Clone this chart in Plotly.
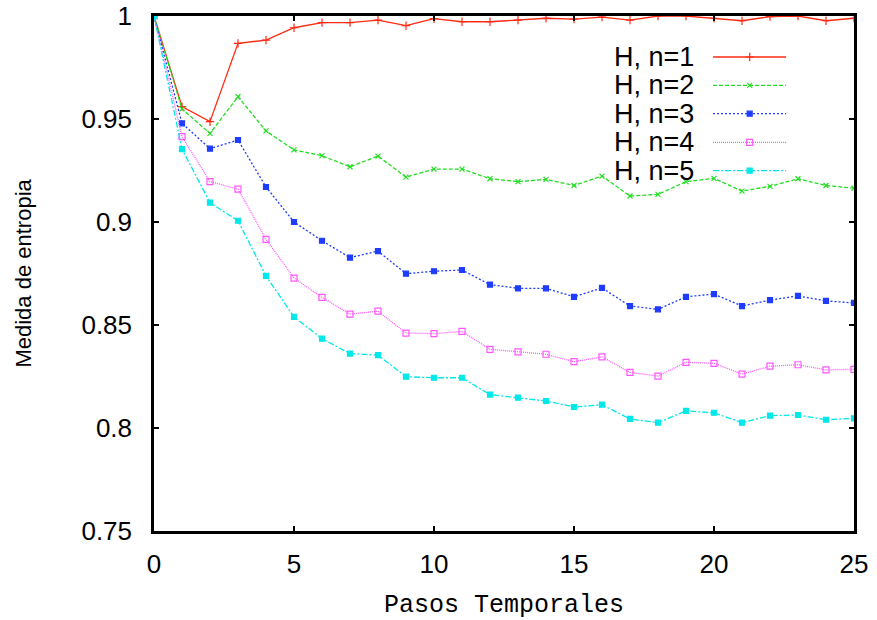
import plotly.graph_objects as go

pasos = list(range(26))

h_n1 = [1.0, 0.956, 0.9487, 0.9867, 0.9883, 0.9943, 0.9968, 0.9968, 0.998, 0.9953,
        0.9987, 0.9972, 0.9972, 0.998, 0.9989, 0.9985, 0.9995, 0.998, 1.0, 1.0,
        0.9989, 0.9977, 0.9997, 1.0, 0.9977, 0.9989]
h_n2 = [1.0, 0.9549, 0.943, 0.9608, 0.9442, 0.935, 0.9322, 0.9268, 0.932, 0.9218,
        0.9257, 0.9257, 0.921, 0.9196, 0.9207, 0.9177, 0.9223, 0.9126, 0.9134, 0.9196,
        0.9212, 0.915, 0.9173, 0.921, 0.9177, 0.9164]
h_n3 = [1.0, 0.9479, 0.9356, 0.9398, 0.917, 0.9, 0.8909, 0.8827, 0.8859, 0.8749,
        0.8761, 0.8767, 0.8696, 0.8678, 0.8678, 0.8637, 0.868, 0.8592, 0.8576, 0.8637,
        0.865, 0.8592, 0.8621, 0.8641, 0.8617, 0.8607]
h_n4 = [1.0, 0.9414, 0.9196, 0.916, 0.8916, 0.8728, 0.8634, 0.8553, 0.8567, 0.8461,
        0.8458, 0.8469, 0.8382, 0.837, 0.8358, 0.8322, 0.8345, 0.827, 0.8252, 0.8319,
        0.8314, 0.8262, 0.83, 0.8307, 0.8282, 0.8285]
h_n5 = [1.0, 0.9354, 0.9094, 0.9006, 0.8738, 0.8539, 0.8434, 0.8361, 0.8354, 0.8249,
        0.8244, 0.8244, 0.8162, 0.8147, 0.8131, 0.8102, 0.8113, 0.8044, 0.8026, 0.8083,
        0.8074, 0.8026, 0.806, 0.8063, 0.804, 0.8047]

series_names = ["H, n=1", "H, n=2", "H, n=3", "H, n=4", "H, n=5"]
series_values = [h_n1, h_n2, h_n3, h_n4, h_n5]

x_ticks = [0, 5, 10, 15, 20, 25]
y_ticks = [0.75, 0.8, 0.85, 0.9, 0.95, 1.0]
y_tick_labels = ["0.75", "0.8", "0.85", "0.9", "0.95", "1"]

colors = ["#ff2a12", "#22dd22", "#1f3cff", "#ff55ff", "#00e8e8"]
dashes = ["solid", "4px,2px", "2px,2px", "1px,1px", "6px,2px,2px,2px"]
symbols = ["cross-thin", "x-thin", "square", "square-open", "square"]
msizes = [6, 5, 5, 6, 5]

fig = go.Figure()
for name, vals, c, d, s, ms in zip(series_names, series_values, colors, dashes, symbols, msizes):
    fig.add_trace(go.Scatter(
        x=pasos, y=vals, name=name, mode="lines+markers", showlegend=False,
        line=dict(color=c, width=1.3, dash=d),
        marker=dict(symbol=s, size=ms, color=c, line=dict(color=c, width=1.2)),
    ))

# custom gnuplot-style legend (text left, sample right) on an overlay axis
leg_rows = [0.9204, 0.8654, 0.8103, 0.7548, 0.6996]
for name, c, d, s, ms, yr in zip(series_names, colors, dashes, symbols, msizes, leg_rows):
    fig.add_trace(go.Scatter(
        x=[0.7986, 0.851, 0.903], y=[yr, yr, yr], xaxis="x2", yaxis="y2",
        mode="lines", showlegend=False, hoverinfo="skip",
        line=dict(color=c, width=1.3, dash=d),
    ))
    fig.add_trace(go.Scatter(
        x=[0.851], y=[yr], xaxis="x2", yaxis="y2",
        mode="markers", showlegend=False, hoverinfo="skip",
        marker=dict(symbol=s, size=ms, color=c, line=dict(color=c, width=1.2)),
    ))
    fig.add_annotation(x=0.774, y=yr, xref="paper", yref="paper", text=name,
                       showarrow=False, xanchor="right", yanchor="middle",
                       font=dict(family="Liberation Sans, Arial, Helvetica", size=27, color="black"))

axis_common = dict(showgrid=False, zeroline=False, showline=True, linecolor="black",
                   linewidth=2.5, mirror="ticks", ticks="inside", ticklen=5, tickwidth=1.5,
                   tickcolor="black", automargin=False,
                   tickfont=dict(family="Liberation Sans, Arial, Helvetica", size=26, color="black"))

fig.update_layout(
    template="none",
    width=877, height=620,
    margin=dict(l=154, r=23, t=16, b=89, autoexpand=False),
    paper_bgcolor="white", plot_bgcolor="white",
    xaxis=dict(range=[0, 25], tickvals=x_ticks, ticklabelstandoff=8, **axis_common),
    yaxis=dict(range=[0.75, 1.0], tickvals=y_ticks, ticktext=y_tick_labels,
               ticklabelstandoff=14, **axis_common),
    xaxis2=dict(range=[0, 1], overlaying="x", visible=False, fixedrange=True),
    yaxis2=dict(range=[0, 1], overlaying="y", visible=False, fixedrange=True),
)

fig.add_annotation(x=0.5, y=-0.1437, xref="paper", yref="paper", text="Pasos Temporales",
                   showarrow=False, xanchor="center", yanchor="middle",
                   font=dict(family="Courier New, Liberation Mono, monospace", size=25, color="black"))
fig.add_annotation(x=-0.187, y=0.5, xref="paper", yref="paper", text="Medida de entropia",
                   showarrow=False, textangle=-90, xanchor="center", yanchor="middle",
                   font=dict(family="Liberation Sans, Arial, Helvetica", size=22, color="black"))

fig.write_html("out.html", config={"displayModeBar": False},
               post_script="document.body.style.margin='0';document.body.style.padding='0';")
